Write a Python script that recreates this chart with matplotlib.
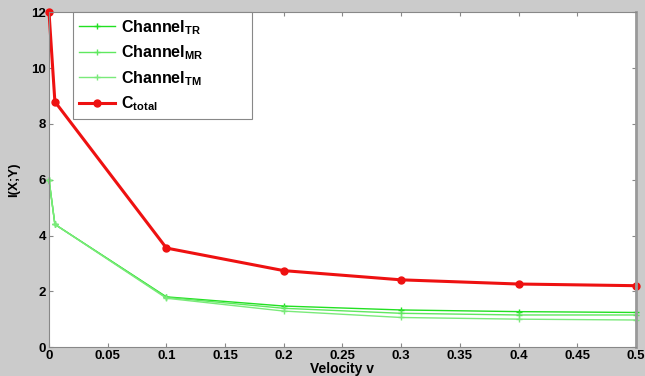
import numpy as np
import matplotlib.pyplot as plt

# datos
velocidad = [0, 0.005, 0.1, 0.2, 0.3, 0.4, 0.5]
canal_tr = [6.0, 4.4, 1.80, 1.47, 1.33, 1.27, 1.24]
canal_mr = [6.0, 4.4, 1.78, 1.39, 1.21, 1.15, 1.15]
canal_tm = [6.0, 4.4, 1.75, 1.29, 1.06, 1.00, 0.97]
c_total = [12.0, 8.8, 3.55, 2.74, 2.41, 2.26, 2.20]

plt.rcParams['font.family'] = ['Liberation Sans', 'DejaVu Sans']
plt.rcParams['font.weight'] = 'bold'
plt.rcParams['mathtext.fontset'] = 'custom'
plt.rcParams['mathtext.rm'] = 'Liberation Sans'
plt.rcParams['mathtext.bf'] = 'Liberation Sans:bold'

fig = plt.figure(figsize=(6.45, 3.76), dpi=100)
fig.patch.set_facecolor('#cbcbcb')
ax = fig.add_axes([0.076, 0.077, 0.910, 0.890])
ax.set_facecolor('white')

ax.plot(velocidad, canal_tr, color='#22e022', lw=1.0, marker='+', ms=4,
        label=r'Channel$_{\mathbf{TR}}$', clip_on=False)
ax.plot(velocidad, canal_mr, color='#5fe85f', lw=1.0, marker='+', ms=4,
        label=r'Channel$_{\mathbf{MR}}$', clip_on=False)
ax.plot(velocidad, canal_tm, color='#7aea7a', lw=1.0, marker='+', ms=4,
        label=r'Channel$_{\mathbf{TM}}$', clip_on=False)
ax.plot(velocidad, c_total, color='#ee1111', lw=2.2, marker='o', ms=5,
        label=r'C$_{\mathbf{total}}$', clip_on=False)

ax.set_xlim(0, 0.5)
ax.set_ylim(0, 12)
ax.set_xticks(np.arange(0, 0.51, 0.05))
ax.set_xticklabels(['0', '0.05', '0.1', '0.15', '0.2', '0.25', '0.3',
                    '0.35', '0.4', '0.45', '0.5'])
ax.set_yticks([0, 2, 4, 6, 8, 10, 12])
ax.tick_params(direction='in', top=True, right=True, length=3,
               color='#888888', labelsize=9.5, pad=2)
for lbl in ax.get_xticklabels() + ax.get_yticklabels():
    lbl.set_fontweight('bold')
for s in ax.spines.values():
    s.set_color('#888888')
ax.spines['right'].set_linewidth(2)
ax.spines['right'].set_color('#999999')

ax.set_xlabel('Velocity v', fontsize=10, fontweight='bold', labelpad=0)
ax.set_ylabel('I(X;Y)', fontsize=9.5, fontweight='bold', labelpad=8)

leg = ax.legend(loc='upper left', bbox_to_anchor=(0.041, 0.0, 0.305, 1.0),
                mode='expand', borderaxespad=0,
                fancybox=False, framealpha=1, edgecolor='#888888',
                prop={'size': 11.5, 'weight': 'bold'}, handlelength=2.3,
                labelspacing=0.42, borderpad=0.35, handletextpad=0.35)
leg.get_frame().set_linewidth(0.8)
leg.set_zorder(5)

fig.savefig('out.png', dpi=100, facecolor=fig.get_facecolor())
